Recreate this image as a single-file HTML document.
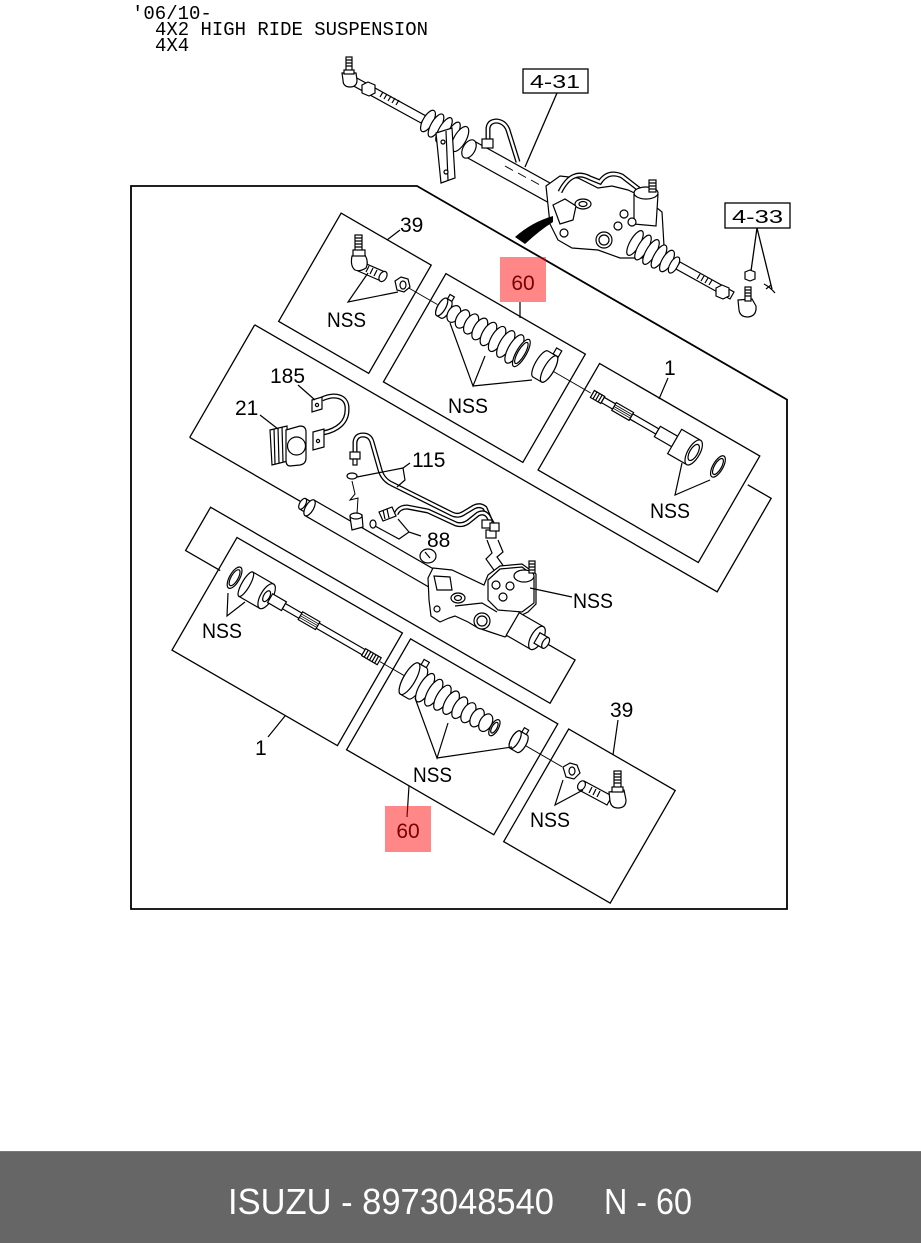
<!DOCTYPE html>
<html><head><meta charset="utf-8">
<style>
html,body{margin:0;padding:0;background:#fff;}
body{width:921px;height:1243px;position:relative;overflow:hidden;}
svg{position:absolute;left:0;top:0;}
</style></head><body>
<svg width="921" height="1243" viewBox="0 0 921 1243" xmlns="http://www.w3.org/2000/svg">
<rect width="921" height="1243" fill="#fff"/>

<!-- header text -->
<g font-family="'Liberation Mono', monospace" font-size="19" fill="#000">
<text x="132" y="19">'06/10-</text>
<text x="155" y="35" textLength="273" lengthAdjust="spacingAndGlyphs">4X2 HIGH RIDE SUSPENSION</text>
<text x="155" y="51">4X4</text>
</g>

<!-- main frame -->
<path d="M131,186 H417 L787,399.6 V909 H131 Z" fill="none" stroke="#000" stroke-width="1.8"/>

<!-- rotated boxes -->
<g transform="rotate(30)" fill="none" stroke="#000" stroke-width="1.3">
 <rect x="402" y="14" width="104" height="125"/>
 <rect x="523" y="14" width="161" height="125"/>
 <rect x="701" y="15" width="185" height="123"/>
 <path d="M383,154 V284 M383,154 H917 V46 H890 M383,284 H828 V334 H436 V384 H476"/>
 <rect x="474" y="347" width="191" height="130"/>
 <rect x="675" y="348" width="170" height="128"/>
 <rect x="857" y="347" width="123" height="130"/>
</g>

<!-- ===== upper assembly (outside) ===== -->
<g stroke="#000" stroke-width="1.2" fill="#fff">
 <path d="M355,77 L426,116 L421,123 L350,84 Z"/>
 <path d="M383,92 l-3,5 M387,94 l-3,5 M391,96 l-3,5 M395,98 l-3,5 M399,100 l-3,5" fill="none"/>
 <path d="M362,85 L368,82 L375,85 L375,93 L369,96 L362,93 Z"/>
 <path d="M342,73 L356,73 L357,80 Q357,87 350,87 Q343,87 343,80 Z"/>
 <rect x="346" y="57" width="6" height="15"/>
 <path d="M346,60 h6 M346,63 h6 M346,66 h6" fill="none"/>
 <rect x="344" y="70" width="10" height="4"/>
 <ellipse cx="428" cy="121" rx="5" ry="12" transform="rotate(30 428 121)"/>
 <ellipse cx="436" cy="125.5" rx="5" ry="13" transform="rotate(30 436 125.5)"/>
 <ellipse cx="444" cy="130" rx="5" ry="14" transform="rotate(30 444 130)"/>
 <ellipse cx="452" cy="134.5" rx="5" ry="14" transform="rotate(30 452 134.5)"/>
 <ellipse cx="460" cy="139" rx="6" ry="14" transform="rotate(30 460 139)"/>
 <path d="M474,141 L606,214 L598,230 L466,157 Z"/>
 <ellipse cx="469" cy="149" rx="6" ry="10" transform="rotate(30 469 149)"/>
 <path d="M505,166 l8,4.5 M518,173 l8,4.5 M531,180 l8,4.5" fill="none" stroke-width="1"/>
 <path d="M436,133 L452,128 L455,178 L441,183 Z"/>
 <path d="M446,131 L448,180" fill="none"/>
 <circle cx="443" cy="142" r="2"/><circle cx="446" cy="172" r="2"/>
 <path d="M488,142 L488,128 Q489,121 497,121 Q505,122 508,130 L518,162" fill="none" stroke-width="5"/>
 <path d="M488,142 L488,128 Q489,121 497,121 Q505,122 508,130 L518,162" fill="none" stroke="#fff" stroke-width="2.4"/>
 <rect x="482" y="139" width="11" height="9"/>
 <path d="M546,186 L560,176 L578,178 L598,188 L612,186 L628,190 L645,198 L662,212 L664,246 L648,258 L620,258 L598,250 L572,248 L558,240 L550,224 Z"/>
 <path d="M560,192 Q572,168 590,178 L600,182 Q608,170 622,176 L640,190" fill="none" stroke-width="5"/>
 <path d="M560,192 Q572,168 590,178 L600,182 Q608,170 622,176 L640,190" fill="none" stroke="#fff" stroke-width="2.4"/>
 <path d="M553,205 L565,199 L576,206 L573,220 L560,224 Z"/>
 <ellipse cx="583" cy="204" rx="8" ry="5"/><ellipse cx="583" cy="204" rx="4" ry="2.5"/>
 <circle cx="564" cy="233" r="4"/>
 <circle cx="604" cy="240" r="8"/><circle cx="604" cy="240" r="5"/>
 <path d="M634,194 L634,224 L656,226 L658,194" />
 <ellipse cx="646" cy="193" rx="12" ry="6"/>
 <rect x="649" y="180" width="7" height="12"/>
 <path d="M649,183 h7 M649,186 h7 M649,189 h7" fill="none"/>
 <circle cx="624" cy="214" r="4"/><circle cx="632" cy="222" r="4"/><circle cx="618" cy="226" r="4"/>
 <ellipse cx="635" cy="243" rx="5" ry="14" transform="rotate(30 635 243)"/>
 <ellipse cx="643" cy="247.5" rx="5" ry="14" transform="rotate(30 643 247.5)"/>
 <ellipse cx="651" cy="252" rx="5" ry="14" transform="rotate(30 651 252)"/>
 <ellipse cx="659" cy="256.5" rx="5" ry="13" transform="rotate(30 659 256.5)"/>
 <ellipse cx="667" cy="261" rx="5" ry="12" transform="rotate(30 667 261)"/>
 <ellipse cx="674" cy="265" rx="4" ry="9" transform="rotate(30 674 265)"/>
 <path d="M680,262 L734,292 L730,299 L676,269 Z"/>
 <path d="M700,274 l-3,5 M704,276 l-3,5 M708,278 l-3,5 M712,280 l-3,5" fill="none"/>
 <path d="M716,288 L722,285 L729,288 L729,296 L723,299 L716,296 Z"/>
 <path d="M738,300 L752,299 L756,306 Q757,316 748,317 Q740,317 739,310 Z"/>
 <rect x="745" y="287" width="6" height="14"/>
 <path d="M745,290 h6 M745,293 h6 M745,296 h6" fill="none"/>
 <path d="M745,272 L750,270 L755,272 L755,279 L750,281 L745,279 Z"/>
 <path d="M764,284 Q770,287 775,293 M766,289 L771,285" fill="none"/>
</g>
<path d="M515,237 Q532,222 553,216 L553,222 Q540,230 525,244 Z" fill="#000"/>

<!-- 4-31 / 4-33 boxes -->
<g stroke="#000" stroke-width="1.3" fill="none">
 <rect x="523" y="69" width="65" height="24"/>
 <path d="M557,93 L525,167"/>
 <rect x="725" y="203" width="65" height="25"/>
 <path d="M757,228 L751,271 M757,228 L772,289"/>
</g>
<g font-family="'Liberation Sans', sans-serif" font-size="18" fill="#000">
 <text x="530" y="88" textLength="50" lengthAdjust="spacingAndGlyphs">4-31</text>
 <text x="732" y="223" textLength="51" lengthAdjust="spacingAndGlyphs">4-33</text>
</g>

<!-- ===== rotated row parts ===== -->
<g transform="rotate(30)" stroke="#000" stroke-width="1.2" fill="#fff">
 <line x1="497" y1="45" x2="531" y2="45" stroke-width="0.9"/>
 <line x1="665" y1="45" x2="708" y2="45" stroke-width="0.9"/>
 <path d="M536,35 L541,35 A4,10 0 0 1 541,55 L536,55 A4,10 0 0 1 536,35 Z"/>
 <ellipse cx="536" cy="45" rx="4" ry="10"/>
 <rect x="537" y="30" width="5" height="5"/>
 <ellipse cx="550" cy="45" rx="6" ry="9"/>
 <ellipse cx="560" cy="45" rx="6" ry="10"/>
 <ellipse cx="570" cy="45" rx="6" ry="11"/>
 <ellipse cx="580" cy="45" rx="6" ry="12"/>
 <ellipse cx="590" cy="45" rx="6" ry="13"/>
 <ellipse cx="600" cy="45" rx="6" ry="14"/>
 <ellipse cx="610" cy="45" rx="6" ry="15"/>
 <ellipse cx="620" cy="45" rx="6" ry="16"/>
 <ellipse cx="628" cy="45" rx="5" ry="15.5"/>
 <ellipse cx="628" cy="45" rx="3.5" ry="12"/>
 <path d="M650,30 L660,30 A5,15 0 0 1 660,60 L650,60 A5,15 0 0 1 650,30 Z"/>
 <ellipse cx="660" cy="45" rx="5" ry="15"/>
 <rect x="656" y="23" width="6" height="7"/>
 <rect x="710" y="41" width="12" height="8"/>
 <path d="M713,41 v8 M716,41 v8 M719,41 v8" fill="none"/>
 <rect x="722" y="42" width="63" height="6"/>
 <rect x="735" y="40.5" width="20" height="9"/>
 <path d="M735,43 h20 M735,45 h20 M735,47 h20" fill="none" stroke-width="0.8"/>
 <rect x="785" y="39" width="20" height="12"/>
 <rect x="805" y="31" width="22" height="28"/>
 <ellipse cx="827" cy="45" rx="6" ry="14"/>
 <ellipse cx="827" cy="45" rx="4" ry="9"/>
 <ellipse cx="855" cy="45" rx="5" ry="12"/>
 <ellipse cx="855" cy="45" rx="3.5" ry="9"/>

 <rect x="514" y="279" width="8" height="12"/>
 <ellipse cx="514" cy="285" rx="3" ry="6"/>
 <rect x="522" y="276" width="180" height="18"/>
 <ellipse cx="522" cy="285" rx="4" ry="9"/>

 <line x1="660" y1="383" x2="690" y2="383" stroke-width="0.9"/>
 <line x1="828" y1="383" x2="870" y2="383" stroke-width="0.9"/>
 <ellipse cx="492" cy="383" rx="5" ry="12"/>
 <ellipse cx="492" cy="383" rx="3.5" ry="9"/>
 <rect x="505" y="369" width="24" height="28"/>
 <ellipse cx="505" cy="383" rx="4" ry="14"/>
 <ellipse cx="529" cy="383" rx="6" ry="14"/>
 <ellipse cx="529" cy="383" rx="3" ry="6"/>
 <rect x="533" y="378" width="16" height="10"/>
 <rect x="549" y="380" width="92" height="6"/>
 <rect x="568" y="378.5" width="20" height="9"/>
 <path d="M568,381 h20 M568,383 h20 M568,385 h20" fill="none" stroke-width="0.8"/>
 <rect x="641" y="379" width="18" height="8"/>
 <path d="M644,379 v8 M647,379 v8 M650,379 v8 M653,379 v8 M656,379 v8" fill="none"/>
 <path d="M694,365 L703,365 A6,18 0 0 1 703,401 L694,401 A6,18 0 0 1 694,365 Z"/>
 <ellipse cx="694" cy="383" rx="6" ry="18"/>
 <rect x="697" y="359" width="6" height="6"/>
 <ellipse cx="712" cy="383" rx="6" ry="16"/>
 <ellipse cx="722" cy="383" rx="6" ry="15"/>
 <ellipse cx="732" cy="383" rx="6" ry="14"/>
 <ellipse cx="742" cy="383" rx="6" ry="13"/>
 <ellipse cx="752" cy="383" rx="6" ry="12"/>
 <ellipse cx="762" cy="383" rx="6" ry="11"/>
 <ellipse cx="772" cy="383" rx="6" ry="10"/>
 <ellipse cx="782" cy="383" rx="6" ry="9.5"/>
 <ellipse cx="792" cy="383" rx="4" ry="9"/>
 <ellipse cx="792" cy="383" rx="2.5" ry="6"/>
 <path d="M816,373 L824,373 A4,10 0 0 1 824,393 L816,393 A4,10 0 0 1 816,373 Z"/>
 <ellipse cx="816" cy="383" rx="4" ry="10"/>
 <rect x="818" y="368" width="5" height="5"/>
</g>

<!-- ===== screen-coord parts ===== -->
<g stroke="#000" stroke-width="1.2" fill="#fff">
 <path d="M362,262 L385,272 L381,281 L358,271 Z"/>
 <ellipse cx="383" cy="276.5" rx="3.5" ry="5.5" transform="rotate(30 383 276.5)"/>
 <path d="M369,266 l-3,6 M373,268 l-3,6 M377,270 l-3,6" fill="none"/>
 <path d="M352,256 L365,255 Q369,262 366,268 Q360,272 355,270 Q350,266 352,256 Z"/>
 <rect x="355" y="235" width="7" height="17"/>
 <path d="M355,238 h7 M355,241 h7 M355,244 h7 M355,247 h7" fill="none"/>
 <rect x="353" y="250" width="12" height="6"/>
 <path d="M395,281 L401,277 L408,279 L410,287 L404,292 L397,290 Z"/>
 <ellipse cx="403" cy="285" rx="3" ry="4"/>

 <path d="M322,399 C335,393 348,396 347,410 C347,422 338,430 323,433" fill="none" stroke-width="5"/>
 <path d="M322,399 C335,393 348,396 347,410 C347,422 338,430 323,433" fill="none" stroke="#fff" stroke-width="2.4"/>
 <path d="M312,400 L322,397 L322,409 L312,412 Z"/>
 <circle cx="317" cy="405" r="1.6"/>
 <path d="M313,432 L324,429 L324,447 L313,450 Z"/>
 <circle cx="318" cy="441" r="1.6"/>
 <path d="M270,430 L287,426 L288,461 L272,465 Z"/>
 <path d="M274,429 L275,464 M278,428 L279,463 M282,427 L283,462" fill="none"/>
 <path d="M286,430 L300,426 Q306,426 306,432 L306,458 Q306,464 300,465 L290,466 Q286,466 286,460 Z"/>
 <circle cx="296.5" cy="446" r="9"/>

 <path d="M355,455 L355,442 Q356,435 363,435 Q370,435 372,442 L380,470 Q383,480 392,484 L452,514 Q458,517 464,513 L474,507 Q480,504 485,508 L491,522" fill="none" stroke-width="5"/>
 <path d="M355,455 L355,442 Q356,435 363,435 Q370,435 372,442 L380,470 Q383,480 392,484 L452,514 Q458,517 464,513 L474,507 Q480,504 485,508 L491,522" fill="none" stroke="#fff" stroke-width="2.4"/>
 <path d="M396,514 Q399,507 407,507 L428,511 L456,524 Q462,526 468,522 L478,514 Q484,511 488,516 L496,530" fill="none" stroke-width="5"/>
 <path d="M396,514 Q399,507 407,507 L428,511 L456,524 Q462,526 468,522 L478,514 Q484,511 488,516 L496,530" fill="none" stroke="#fff" stroke-width="2.4"/>
 <rect x="350" y="452" width="10" height="7"/>
 <rect x="353" y="459" width="4" height="6"/>
 <path d="M379,512 L392,507 L396,516 L383,521 Z"/>
 <path d="M383,510 l2,9 M387,509 l2,9" fill="none"/>
 <rect x="482" y="520" width="10" height="8"/><rect x="486" y="530" width="10" height="8"/>
 <rect x="490" y="523" width="9" height="8"/>
 <path d="M487,540 L492,553 L486,559 L496,573 M498,540 L503,552 L497,557 L507,571" fill="none"/>
 <ellipse cx="352" cy="476" rx="5" ry="3"/>
 <path d="M352,481 L355,494 L350,500 L358,498 L357,514" fill="none" stroke-width="1"/>
 <ellipse cx="373" cy="524" rx="3" ry="4"/>
 <!-- port fitting on rack -->
 <path d="M350,517 L362,515 L363,527 L352,530 Z"/>
 <ellipse cx="356" cy="516" rx="6" ry="3"/>

 <path d="M428,578 L433,568 L452,570 L484,585 L488,575 L500,566 L522,564 L536,574 L536,604 L528,612 L520,616 L515,630 L505,637 L490,632 L478,628 L468,622 L455,616 L449,618 L440,622 L431,616 L429,600 Z"/>
 <path d="M434,576 L450,577 L452,590 L437,590 Z"/>
 <circle cx="437" cy="609" r="3"/>
 <ellipse cx="458" cy="598" rx="7" ry="5"/><ellipse cx="458" cy="598" rx="3.5" ry="2.5"/>
 <path d="M455,606 L482,603 L497,612" fill="none"/>
 <circle cx="482" cy="621" r="8"/><circle cx="482" cy="621" r="5"/>
 <path d="M488,580 L500,569 L522,567 L534,576 L534,603 L522,612 L498,610 L488,600 Z"/>
 <ellipse cx="524" cy="576" rx="10" ry="6"/>
 <rect x="529" y="561" width="6" height="12"/>
 <path d="M529,564 h6 M529,567 h6 M529,570 h6" fill="none"/>
 <circle cx="496" cy="585" r="4"/><circle cx="503" cy="597" r="4"/><circle cx="510" cy="586" r="4"/>
 <ellipse cx="428" cy="556" rx="8" ry="7"/>
 <path d="M425,552 L430,558" fill="none"/>

 <path d="M563,767 L570,763 L577,765 L580,773 L574,779 L566,777 Z"/>
 <ellipse cx="572" cy="771" rx="3" ry="4"/>
 <path d="M584,781 L612,796 L607,805 L579,790 Z"/>
 <ellipse cx="581.5" cy="785.5" rx="3.5" ry="5" transform="rotate(30 581.5 785.5)"/>
 <path d="M592,787 l-3,6 M596,789 l-3,6 M600,791 l-3,6" fill="none"/>
 <path d="M609,792 L624,790 L626,800 Q626,808 618,808 Q611,808 610,801 Z"/>
 <rect x="614" y="771" width="7" height="19"/>
 <path d="M614,774 h7 M614,777 h7 M614,780 h7 M614,783 h7" fill="none"/>
 <rect x="612" y="787" width="11" height="5"/>
</g>

<g transform="rotate(30)" stroke="#000" stroke-width="1.2" fill="#fff">
 <rect x="756" y="271" width="28" height="26"/>
 <ellipse cx="784" cy="284" rx="6" ry="13"/>
 <rect x="784" y="278" width="10" height="12"/>
 <ellipse cx="794" cy="284" rx="3" ry="6"/>
</g>

<!-- leaders -->
<g stroke="#000" stroke-width="1.2" fill="none">
 <path d="M368,273 L348,302 L398,292"/>
 <path d="M450,323 L473,386 L485,356 M473,386 L532,380"/>
 <path d="M682,463 L675,495 L710,480"/>
 <path d="M530,588 L572,597"/>
 <path d="M228,593 L227,616 L245,602"/>
 <path d="M415,698 L437,758 L448,723 M437,758 L512,747"/>
 <path d="M563,780 L555,805 L583,790"/>
 <path d="M387,240 L400,230"/>
 <path d="M520,302 L520,318"/>
 <path d="M659,399 L668,378"/>
 <path d="M298,385 L315,400"/>
 <path d="M260,415 L278,429"/>
 <path d="M268,737 L285,716"/>
 <path d="M409,786 L407,817"/>
 <path d="M618,720 L613,755"/>
 <path d="M410,463 L403,468 L357,477 M403,468 L405,480 L397,487"/>
 <path d="M421,536 L409,532 L399,539 L375,526 M409,532 L398,519"/>
</g>

<!-- labels -->
<g font-family="'Liberation Sans', sans-serif" font-size="21" fill="#000">
 <text x="400" y="232">39</text>
 <text x="327" y="327" textLength="39" lengthAdjust="spacingAndGlyphs">NSS</text>
 <text x="448" y="413" textLength="40" lengthAdjust="spacingAndGlyphs">NSS</text>
 <text x="270" y="383">185</text>
 <text x="235" y="415">21</text>
 <text x="412" y="467">115</text>
 <text x="664" y="375">1</text>
 <text x="650" y="518" textLength="40" lengthAdjust="spacingAndGlyphs">NSS</text>
 <text x="427" y="547">88</text>
 <text x="573" y="608" textLength="40" lengthAdjust="spacingAndGlyphs">NSS</text>
 <text x="202" y="638" textLength="40" lengthAdjust="spacingAndGlyphs">NSS</text>
 <text x="255" y="755">1</text>
 <text x="413" y="782" textLength="39" lengthAdjust="spacingAndGlyphs">NSS</text>
 <text x="610" y="717">39</text>
 <text x="530" y="827" textLength="40" lengthAdjust="spacingAndGlyphs">NSS</text>
 <text x="523" y="290" text-anchor="middle">60</text>
 <text x="408" y="838" text-anchor="middle">60</text>
</g>

<!-- highlights -->
<rect x="500" y="257" width="46" height="45" fill="#ff0000" fill-opacity="0.47"/>
<rect x="385" y="806" width="46" height="46" fill="#ff0000" fill-opacity="0.47"/>

<!-- footer -->
<rect x="0" y="1151" width="921" height="92" fill="#666666"/>
<line x1="0" y1="1151.5" x2="921" y2="1151.5" stroke="#7a7a7a" stroke-width="1"/>
<g font-family="'Liberation Sans', sans-serif" font-size="36" fill="#fff">
 <text x="228" y="1214" textLength="326" lengthAdjust="spacingAndGlyphs">ISUZU - 8973048540</text>
 <text x="604" y="1214" textLength="88" lengthAdjust="spacingAndGlyphs">N - 60</text>
</g>
</svg>
</body></html>
